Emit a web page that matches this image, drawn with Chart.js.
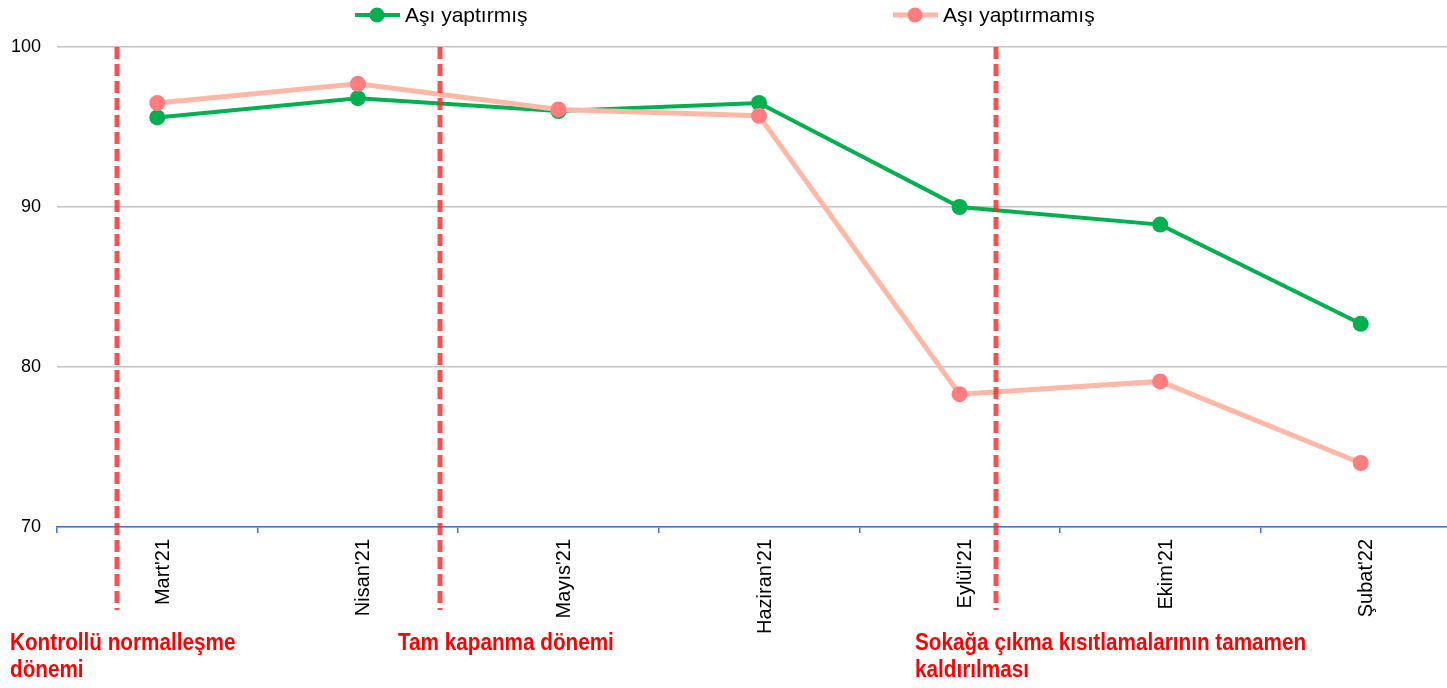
<!DOCTYPE html>
<html>
<head>
<meta charset="utf-8">
<script src="https://cdn.jsdelivr.net/npm/chart.js@4.4.1/dist/chart.umd.min.js"></script>
<style>
  html, body { margin: 0; padding: 0; background: #fff; overflow: hidden; }
  #wrap { width: 1469px; height: 688px; position: relative; }
</style>
</head>
<body>
<div id="wrap"><canvas id="chart"></canvas></div>
<script>
// data
const months = ["Mart'21", "Nisan'21", "Mayıs'21", "Haziran'21", "Eylül'21", "Ekim'21", "Şubat'22"]
const vaccinated = [95.6, 96.8, 96.0, 96.5, 90.0, 88.9, 82.7]
const unvaccinated = [96.5, 97.7, 96.1, 95.7, 78.3, 79.1, 74.0]
const seriesNames = ["Aşı yaptırmış", "Aşı yaptırmamış"]
const yMin = 70, yMax = 100, yStep = 10

// period markers: position in category units and their captions
const periodAt = [-0.2, 1.41, 4.18]
const periodText = [
	["Kontrollü normalleşme", "dönemi"],
	["Tam kapanma dönemi"],
	["Sokağa çıkma kısıtlamalarının tamamen", "kaldırılması"]
]

const tickFont = { family: "'Liberation Sans', Arial, sans-serif", size: 18 }

// legend drawn by hand: the two entries sit far apart in the original
const sideLegend = {
	id: 'sideLegend',
	afterDraw(chart, args, opts) {
		const ctx = chart.ctx
		ctx.save()
		chart.data.datasets.forEach(function (ds, i) {
			const x = opts.xs[i], y = opts.y
			ctx.strokeStyle = ds.borderColor
			ctx.lineWidth = ds.borderWidth
			ctx.beginPath()
			ctx.moveTo(x, y)
			ctx.lineTo(x + 45, y)
			ctx.stroke()
			ctx.fillStyle = ds.pointBackgroundColor
			ctx.beginPath()
			ctx.arc(x + 22, y, 7.5, 0, Math.PI * 2)
			ctx.fill()
			ctx.fillStyle = '#000'
			ctx.font = "21px 'Liberation Sans', Arial, sans-serif"
			ctx.textBaseline = 'middle'
			ctx.fillText(ds.label, x + 50, y + 1)
		})
		ctx.restore()
	}
}

// red dashed period lines and their captions
const periods = {
	id: 'periods',
	afterDraw(chart, args, opts) {
		const ctx = chart.ctx
		const xs = chart.scales.x
		const top = chart.chartArea.top
		ctx.save()
		ctx.strokeStyle = 'rgba(255, 40, 40, 0.82)'
		ctx.lineWidth = 5
		ctx.setLineDash([12, 5])
		periodAt.forEach(function (v) {
			const px = Math.round(xs.getPixelForValue(v))
			ctx.beginPath()
			ctx.moveTo(px, top)
			ctx.lineTo(px, opts.bottom)
			ctx.stroke()
		})
		ctx.setLineDash([])
		ctx.fillStyle = '#ff0000'
		ctx.font = "bold 23px 'Liberation Sans', Arial, sans-serif"
		ctx.textBaseline = 'alphabetic'
		periodText.forEach(function (lines, i) {
			lines.forEach(function (t, j) {
				// squeeze horizontally to mimic the condensed face of the original
				ctx.save()
				ctx.translate(opts.textX[i], opts.textY + j * 27)
				ctx.scale(0.9, 1)
				ctx.fillText(t, 0, 0)
				ctx.restore()
			})
		})
		ctx.restore()
	}
}

var chart = new Chart(document.getElementById('chart'), {
	type: 'line',
	data: {
		labels: months,
		datasets: [
			{
				label: seriesNames[0],
				data: vaccinated,
				borderColor: '#00B050',
				backgroundColor: '#00B050',
				pointBackgroundColor: '#00B050',
				borderWidth: 4,
				pointRadius: 8,
				pointBorderWidth: 0,
				tension: 0,
				order: 2
			},
			{
				label: seriesNames[1],
				data: unvaccinated,
				borderColor: '#FFB7A8',
				backgroundColor: '#FF7C80',
				pointBackgroundColor: '#FF7C80',
				borderWidth: 5,
				pointRadius: 8,
				pointBorderWidth: 0,
				tension: 0,
				order: 1
			}
		]
	},
	options: {
		responsive: true,
		maintainAspectRatio: false,
		animation: false,
		layout: { padding: { top: 47, left: 0, right: 0, bottom: 0 } },
		plugins: {
			legend: { display: false },
			tooltip: { enabled: false },
			sideLegend: { xs: [355, 893], y: 15 },
			periods: { bottom: 610, textX: [10, 398, 915], textY: 650 }
		},
		scales: {
			x: {
				type: 'category',
				offset: true,
				grid: {
					offset: true,
					drawOnChartArea: false,
					color: '#4472C4',
					lineWidth: 1.5,
					tickLength: 6
				},
				border: { color: '#4472C4', width: 1.5 },
				ticks: {
					minRotation: 90,
					maxRotation: 90,
					padding: 6,
					labelOffset: 6,
					color: '#000',
					font: { family: tickFont.family, size: 20 }
				},
				afterFit: function (s) { s.height = 161 }
			},
			y: {
				min: yMin,
				max: yMax,
				ticks: { stepSize: yStep, color: '#000', padding: 16, font: tickFont },
				grid: { color: '#c4c4c4', lineWidth: 1.5, drawTicks: false },
				border: { display: false },
				afterFit: function (s) { s.width = 57 }
			}
		}
	},
	plugins: [periods, sideLegend]
})
</script>
</body>
</html>
